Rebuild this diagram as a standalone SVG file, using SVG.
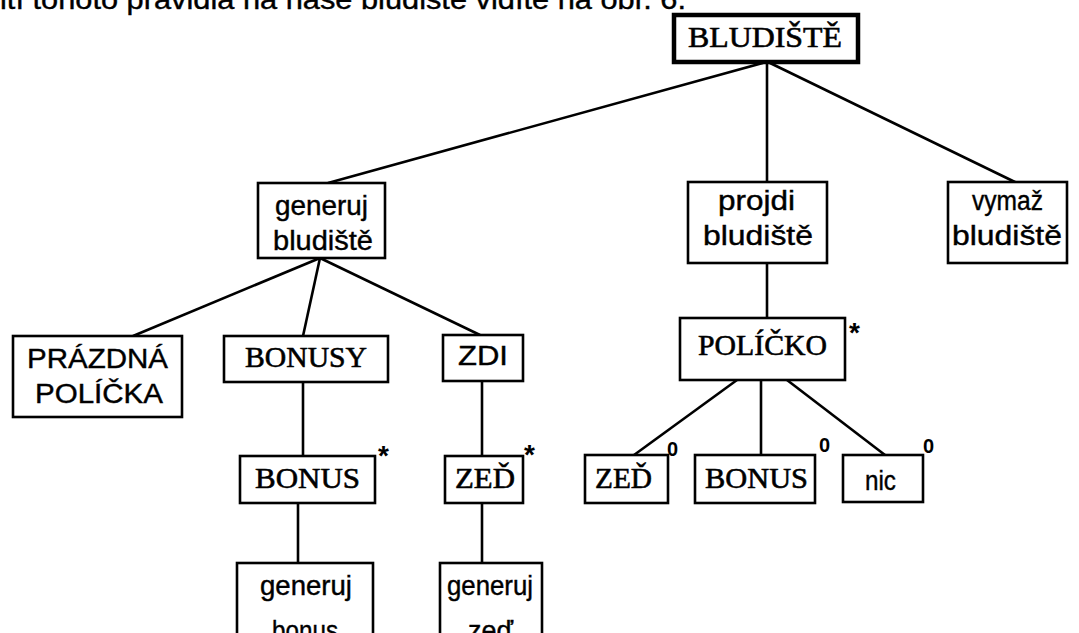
<svg xmlns="http://www.w3.org/2000/svg" width="1079" height="633" viewBox="0 0 1079 633">
  <style>
    .box { fill: #fff; stroke: #000; stroke-width: 2.6; }
    .root { fill: #fff; stroke: #000; stroke-width: 4.5; }
    .sf { font-family: "Liberation Serif", "Times New Roman", serif; font-size: 30px; fill: #000; stroke: #000; stroke-width: 0.6; }
    .ss { font-family: "Liberation Sans", Arial, sans-serif; font-size: 27px; fill: #000; stroke: #000; stroke-width: 0.4; }
    .mark { font-family: "Liberation Sans", Arial, sans-serif; font-size: 20px; font-weight: bold; fill: #000; }
    .star { font-family: "Liberation Sans", Arial, sans-serif; font-size: 28px; font-weight: bold; fill: #000; }
    .conn line { stroke: #000; stroke-width: 2.6; }
  </style>

  <!-- caption line above the tree (cropped at top) -->
  <text class="ss" x="0" y="9" font-size="24" textLength="686" lengthAdjust="spacingAndGlyphs">ití tohoto pravidla na naše bludiště vidíte na obr. 6.</text>

  <g id="connectors" class="conn">
    <line x1="766" y1="62" x2="328" y2="183"/>
    <line x1="767" y1="62" x2="767" y2="183"/>
    <line x1="768" y1="62" x2="1017" y2="183"/>
    <line x1="320" y1="258" x2="133" y2="336"/>
    <line x1="320" y1="258" x2="303" y2="336"/>
    <line x1="320" y1="258" x2="480" y2="335"/>
    <line x1="303" y1="382" x2="303" y2="456"/>
    <line x1="298" y1="503" x2="298" y2="563"/>
    <line x1="482" y1="381" x2="482" y2="456"/>
    <line x1="482" y1="503" x2="482" y2="563"/>
    <line x1="767" y1="263" x2="767" y2="318"/>
    <line x1="737" y1="380" x2="634" y2="455"/>
    <line x1="761" y1="380" x2="761" y2="455"/>
    <line x1="787" y1="380" x2="885" y2="455"/>
  </g>

  <g id="bludiste">
    <rect class="root" x="674" y="15" width="184" height="47"/>
    <text class="sf" x="688" y="47" font-size="28" textLength="154" lengthAdjust="spacingAndGlyphs">BLUDIŠTĚ</text>
  </g>

  <g id="generuj-bludiste">
    <rect class="box" x="258" y="183" width="127" height="75"/>
    <text class="ss" x="275" y="215" textLength="93" lengthAdjust="spacingAndGlyphs">generuj</text>
    <text class="ss" x="273" y="250" textLength="100" lengthAdjust="spacingAndGlyphs">bludiště</text>
  </g>

  <g id="projdi-bludiste">
    <rect class="box" x="688" y="182" width="139" height="81"/>
    <text class="ss" x="718" y="210" textLength="77" lengthAdjust="spacingAndGlyphs">projdi</text>
    <text class="ss" x="703" y="245" textLength="110" lengthAdjust="spacingAndGlyphs">bludiště</text>
  </g>

  <g id="vymaz-bludiste">
    <rect class="box" x="948" y="182" width="119" height="81"/>
    <text class="ss" x="972" y="210" textLength="71" lengthAdjust="spacingAndGlyphs">vymaž</text>
    <text class="ss" x="952" y="245" textLength="110" lengthAdjust="spacingAndGlyphs">bludiště</text>
  </g>

  <g id="prazdna-policka">
    <rect class="box" x="13" y="336" width="169" height="81"/>
    <text class="ss" x="27" y="368" font-size="28" textLength="141" lengthAdjust="spacingAndGlyphs">PRÁZDNÁ</text>
    <text class="ss" x="35" y="403" font-size="28" textLength="128" lengthAdjust="spacingAndGlyphs">POLÍČKA</text>
  </g>

  <g id="bonusy">
    <rect class="box" x="224" y="336" width="164" height="46"/>
    <text class="sf" x="245" y="367" textLength="122" lengthAdjust="spacingAndGlyphs">BONUSY</text>
  </g>

  <g id="zdi">
    <rect class="box" x="443" y="335" width="80" height="46"/>
    <text class="ss" x="458" y="365" font-size="28" textLength="50" lengthAdjust="spacingAndGlyphs">ZDI</text>
  </g>

  <g id="bonus">
    <rect class="box" x="240" y="456" width="135" height="47"/>
    <text class="sf" x="255" y="488" textLength="105" lengthAdjust="spacingAndGlyphs">BONUS</text>
    <text class="star" x="378" y="465">*</text>
  </g>

  <g id="zed">
    <rect class="box" x="445" y="456" width="78" height="47"/>
    <text class="sf" x="455" y="488" textLength="60" lengthAdjust="spacingAndGlyphs">ZEĎ</text>
    <text class="star" x="524" y="464">*</text>
  </g>

  <g id="generuj-bonus">
    <rect class="box" x="237" y="563" width="136" height="90"/>
    <text class="ss" x="260" y="595" textLength="92" lengthAdjust="spacingAndGlyphs">generuj</text>
    <text class="ss" x="272" y="640" textLength="66" lengthAdjust="spacingAndGlyphs">bonus</text>
  </g>

  <g id="generuj-zed">
    <rect class="box" x="440" y="563" width="102" height="90"/>
    <text class="ss" x="447" y="595" textLength="86" lengthAdjust="spacingAndGlyphs">generuj</text>
    <text class="ss" x="468" y="640" textLength="45" lengthAdjust="spacingAndGlyphs">zeď</text>
  </g>

  <g id="policko">
    <rect class="box" x="680" y="318" width="165" height="62"/>
    <text class="sf" x="698" y="355" textLength="129" lengthAdjust="spacingAndGlyphs">POLÍČKO</text>
    <text class="star" x="849" y="342">*</text>
  </g>

  <g id="zed-2">
    <rect class="box" x="585" y="455" width="83" height="48"/>
    <text class="sf" x="595" y="488" textLength="57" lengthAdjust="spacingAndGlyphs">ZEĎ</text>
    <text class="mark" x="667" y="456">0</text>
  </g>

  <g id="bonus-2">
    <rect class="box" x="695" y="455" width="120" height="48"/>
    <text class="sf" x="705" y="488" textLength="103" lengthAdjust="spacingAndGlyphs">BONUS</text>
    <text class="mark" x="819" y="452">0</text>
  </g>

  <g id="nic">
    <rect class="box" x="843" y="455" width="80" height="47"/>
    <text class="ss" x="865" y="490" textLength="31" lengthAdjust="spacingAndGlyphs">nic</text>
    <text class="mark" x="923" y="453">0</text>
  </g>
</svg>
